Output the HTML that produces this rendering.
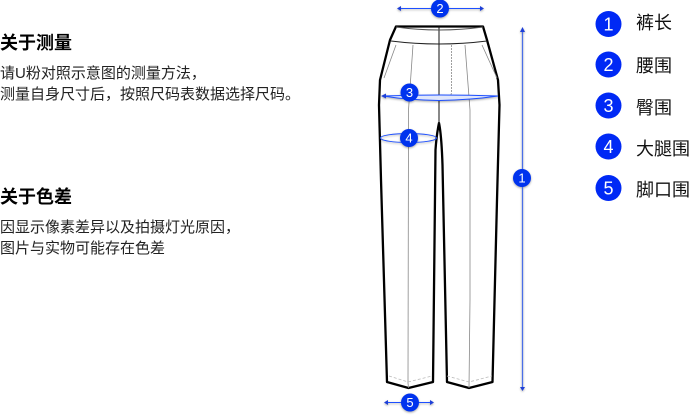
<!DOCTYPE html>
<html><head><meta charset="utf-8"><style>
html,body{margin:0;padding:0;background:#fff}
body{width:690px;height:415px;position:relative;overflow:hidden;font-family:"Liberation Sans","Noto Sans CJK SC",sans-serif;color:#111}
.t{position:absolute;white-space:nowrap;line-height:20px}
.h{font-size:18px;font-weight:bold;color:#000}
.p{font-size:15px;color:#222}
.l{font-size:18px;left:636px;color:#111}
svg{position:absolute;left:0;top:0}
.sh{filter:drop-shadow(0 1px 1px rgba(0,0,0,.35))}
</style></head><body>
<div class="t h" style="left:0;top:33px">关于测量</div>
<div class="t p" style="left:0;top:64px">请U粉对照示意图的测量方法，</div>
<div class="t p" style="left:0;top:85px">测量自身尺寸后，按照尺码表数据选择尺码。</div>
<div class="t h" style="left:0;top:187px">关于色差</div>
<div class="t p" style="left:0;top:218px">因显示像素差异以及拍摄灯光原因，</div>
<div class="t p" style="left:0;top:239px">图片与实物可能存在色差</div>
<div class="t l" style="top:13px">裤长</div>
<div class="t l" style="top:56px">腰围</div>
<div class="t l" style="top:98px">臀围</div>
<div class="t l" style="top:139px">大腿围</div>
<div class="t l" style="top:180px">脚口围</div>
<svg width="690" height="415" viewBox="0 0 690 415" font-family="Liberation Sans, sans-serif">
<g fill="none" stroke="#000" stroke-width="2.300" stroke-linejoin="round">
<path d="M396 26.500H483L487 40L498 80L499.500 105L497 200L492.500 382L469 388L447 382L442.500 165Q441.500 135 439 123Q436.500 135 435.500 150L433 382L408.500 388L387 382L381 180L379 105L380 80L390 40Z"/>
</g>
<g fill="none" stroke="#222" stroke-width="1">
<path d="M439 26V124" stroke="#111"/>
<path d="M396 27Q439 33 483 27" stroke="#555"/>
<path d="M391 41Q439 47 487 41"/>
</g>
<g fill="none" stroke="#888" stroke-width="0.800">
<path d="M413 45L408.500 110L408 383L408.500 388"/>
<path d="M465 45L470 110L470 300L469 388"/>
<path d="M396 45L384 78M482 45L497 78"/>
<path d="M451.500 45V92Q451 99 443 100" stroke-dasharray="2 1"/>
<path d="M389 376L408 382L432 376M447 376L469 382L492 376" stroke="#bbb" stroke-dasharray="3 2"/>
</g>
<g class="sh">
<g fill="none" stroke="#1d4fff" stroke-width="1">
<path d="M400 8.500H482"/>
<path d="M522.500 30V388" stroke="#4a6fe8" stroke-width="1.200"/>
<path d="M386 402.500H431"/>
<path d="M383 96Q408 100 439 100.500Q470 100 498 96Q440 94 383 96Z" fill="#dfe6fb"/>
<ellipse cx="408.500" cy="138" rx="28" ry="4.500"/>
</g>
<g fill="#1d3fd8">
<path d="M397 8.500L401 6V11Z"/><path d="M484 8.500L480 6V11Z"/>
<path d="M522.500 27L520 32H525Z"/><path d="M522.500 391L520 387H525Z"/>
<path d="M384 402.500L388 400V405Z"/><path d="M434 402.500L430 400V405Z"/>
<path d="M381 96L386 93.500V98.500Z"/>
</g>
<g fill="#0033ee">
<circle cx="440" cy="8.500" r="9"/><circle cx="409.500" cy="92.500" r="9"/><circle cx="409" cy="138" r="9"/><circle cx="522" cy="178" r="9"/><circle cx="410" cy="402.500" r="9"/>
</g>
</g>
<g fill="#fff" font-size="13" text-anchor="middle">
<text x="440" y="13">2</text><text x="409.500" y="97">3</text><text x="409" y="142.500">4</text><text x="522" y="182.500">1</text><text x="410" y="407">5</text>
</g>
<g fill="#0029f5">
<circle cx="608.500" cy="24" r="13"/><circle cx="608.500" cy="64.500" r="13"/><circle cx="608.500" cy="105.500" r="13"/><circle cx="608.500" cy="146.500" r="13"/><circle cx="608.500" cy="188" r="13"/>
</g>
<g fill="#fff" font-size="18" text-anchor="middle">
<text x="608.500" y="30.500">1</text><text x="608.500" y="71">2</text><text x="608.500" y="112">3</text><text x="608.500" y="153">4</text><text x="608.500" y="194.500">5</text>
</g>
</svg>
</body></html>
